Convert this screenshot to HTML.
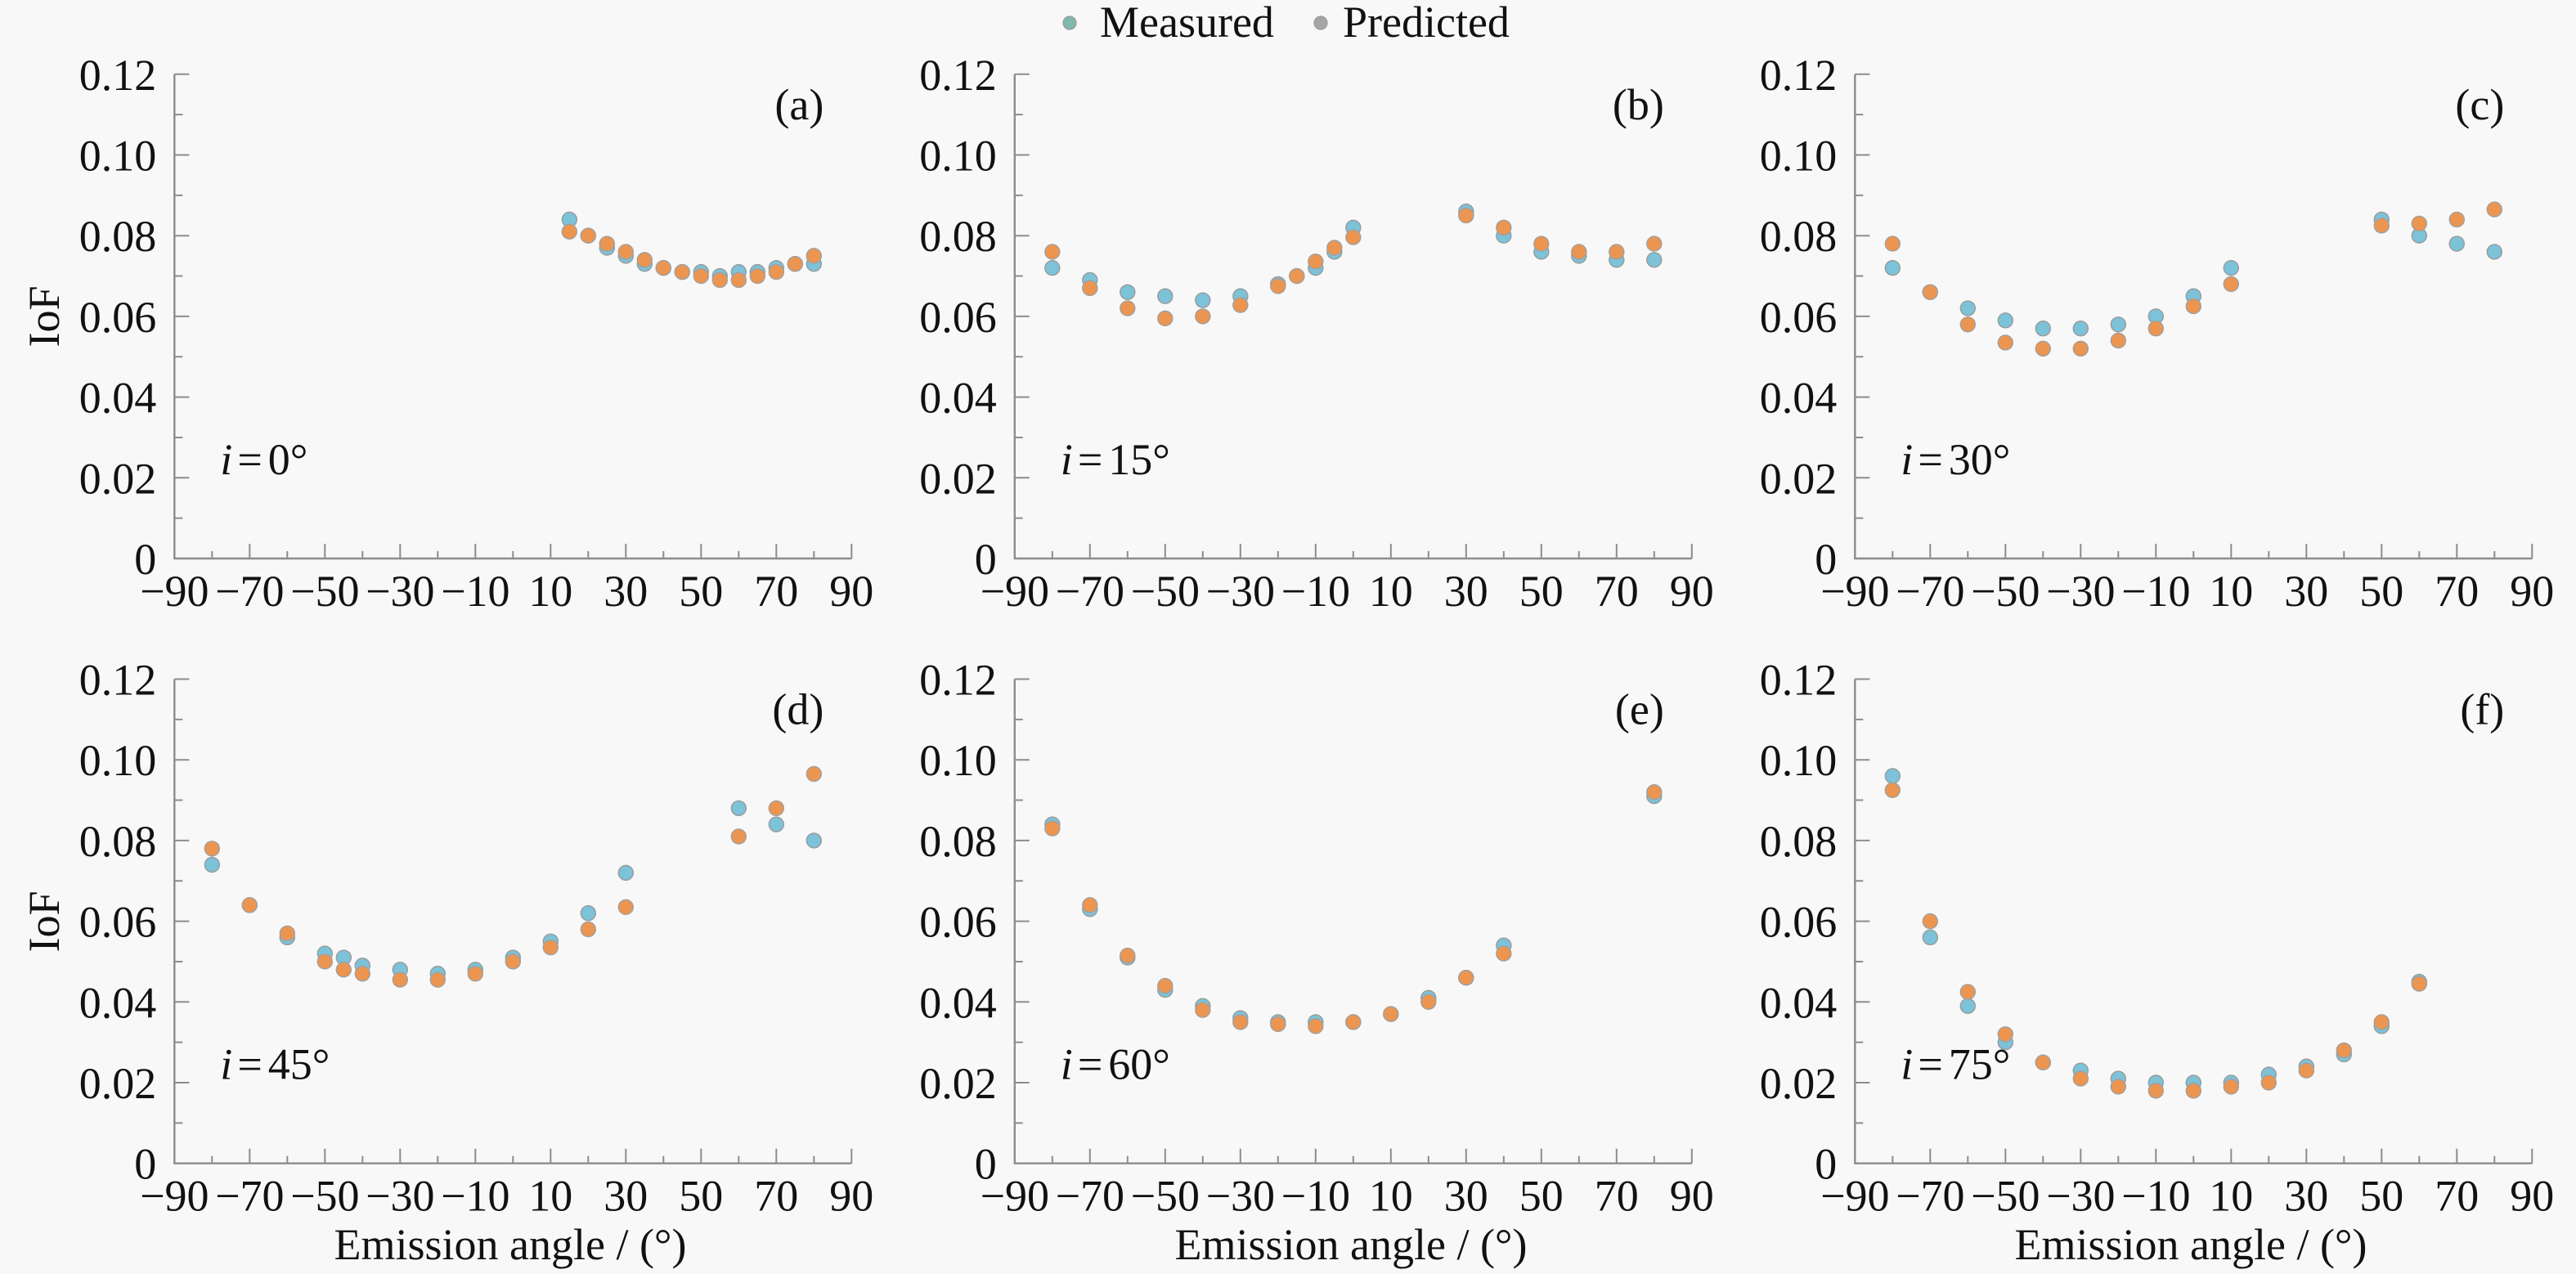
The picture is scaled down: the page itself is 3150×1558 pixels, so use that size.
<!DOCTYPE html>
<html>
<head>
<meta charset="utf-8">
<style>
html,body{margin:0;padding:0;background:#f8f8f8;}
svg{display:block;}
text{font-family:"Liberation Serif","Times New Roman",serif;font-size:54px;fill:#111;}
.ax{stroke:#8c8c8c;stroke-width:2.4;fill:none;}
.tk{stroke:#8c8c8c;stroke-width:2;fill:none;}
.m{fill:#7cc2d8;stroke:#9a9a9a;stroke-width:1.4;}
.p{fill:#ec9550;stroke:#a0a0a0;stroke-width:1.4;}
</style>
</head>
<body>
<svg width="3150" height="1558" viewBox="0 0 3150 1558" xmlns="http://www.w3.org/2000/svg">
<rect width="3150" height="1558" fill="#f8f8f8"/>

<!-- Legend -->
<circle cx="1308" cy="28" r="8" fill="#7fb8ac" stroke="#999" stroke-width="1.2"/>
<text x="1345" y="45">Measured</text>
<circle cx="1615" cy="28" r="8" fill="#a6a6a6" stroke="#999" stroke-width="1.2"/>
<text x="1642" y="45">Predicted</text>

<!-- IoF labels -->
<text transform="translate(72,387) rotate(-90)" text-anchor="middle">IoF</text>
<text transform="translate(72,1127) rotate(-90)" text-anchor="middle">IoF</text>

<!-- Emission labels -->
<text x="624" y="1540" text-anchor="middle">Emission angle / (°)</text>
<text x="1652" y="1540" text-anchor="middle">Emission angle / (°)</text>
<text x="2679" y="1540" text-anchor="middle">Emission angle / (°)</text>

<defs>
<path id="ticks" class="tk" d="M0 -98.7h18M0 -197.4h18M0 -296.1h18M0 -394.8h18M0 -493.5h18M0 -592.2h18M0 -49.35h10M0 -148.05h10M0 -246.75h10M0 -345.45h10M0 -444.15h10M0 -542.85h10M92 0v-18M184 0v-18M276 0v-18M368 0v-18M460 0v-18M552 0v-18M644 0v-18M736 0v-18M828 0v-18M46 0v-9M138 0v-9M230 0v-9M322 0v-9M414 0v-9M506 0v-9M598 0v-9M690 0v-9M782 0v-9"/>
<path id="axes" class="ax" d="M0 -592.2V0H828"/>
</defs>

<!-- ===== Panel a ===== -->
<g transform="translate(213.3,683)">
<use href="#ticks"/><use href="#axes"/>
<text x="-22" y="19" text-anchor="end">0</text>
<text x="-22" y="-79.7" text-anchor="end">0.02</text>
<text x="-22" y="-178.4" text-anchor="end">0.04</text>
<text x="-22" y="-277.1" text-anchor="end">0.06</text>
<text x="-22" y="-375.8" text-anchor="end">0.08</text>
<text x="-22" y="-474.5" text-anchor="end">0.10</text>
<text x="-22" y="-573.2" text-anchor="end">0.12</text>
<text y="58" text-anchor="middle"><tspan x="0">−90</tspan><tspan x="92">−70</tspan><tspan x="184">−50</tspan><tspan x="276">−30</tspan><tspan x="368">−10</tspan><tspan x="460">10</tspan><tspan x="552">30</tspan><tspan x="644">50</tspan><tspan x="736">70</tspan><tspan x="828">90</tspan></text>
<text x="794" y="-537" text-anchor="end">(a)</text>
<text x="56" y="-103"><tspan font-style="italic">i</tspan><tspan dx="6">=</tspan><tspan dx="7">0°</tspan></text>
<g transform="scale(4.6,-4.935)">
<g class="m">
<ellipse cx="105" cy="84" rx="1.957" ry="1.824" vector-effect="non-scaling-stroke"/>
<ellipse cx="110" cy="80" rx="1.957" ry="1.824" vector-effect="non-scaling-stroke"/>
<ellipse cx="115" cy="77" rx="1.957" ry="1.824" vector-effect="non-scaling-stroke"/>
<ellipse cx="120" cy="75" rx="1.957" ry="1.824" vector-effect="non-scaling-stroke"/>
<ellipse cx="125" cy="73" rx="1.957" ry="1.824" vector-effect="non-scaling-stroke"/>
<ellipse cx="130" cy="72" rx="1.957" ry="1.824" vector-effect="non-scaling-stroke"/>
<ellipse cx="135" cy="71" rx="1.957" ry="1.824" vector-effect="non-scaling-stroke"/>
<ellipse cx="140" cy="71" rx="1.957" ry="1.824" vector-effect="non-scaling-stroke"/>
<ellipse cx="145" cy="70" rx="1.957" ry="1.824" vector-effect="non-scaling-stroke"/>
<ellipse cx="150" cy="71" rx="1.957" ry="1.824" vector-effect="non-scaling-stroke"/>
<ellipse cx="155" cy="71" rx="1.957" ry="1.824" vector-effect="non-scaling-stroke"/>
<ellipse cx="160" cy="72" rx="1.957" ry="1.824" vector-effect="non-scaling-stroke"/>
<ellipse cx="165" cy="73" rx="1.957" ry="1.824" vector-effect="non-scaling-stroke"/>
<ellipse cx="170" cy="73" rx="1.957" ry="1.824" vector-effect="non-scaling-stroke"/>
</g>
<g class="p">
<ellipse cx="105" cy="81" rx="1.957" ry="1.824" vector-effect="non-scaling-stroke"/>
<ellipse cx="110" cy="80" rx="1.957" ry="1.824" vector-effect="non-scaling-stroke"/>
<ellipse cx="115" cy="78" rx="1.957" ry="1.824" vector-effect="non-scaling-stroke"/>
<ellipse cx="120" cy="76" rx="1.957" ry="1.824" vector-effect="non-scaling-stroke"/>
<ellipse cx="125" cy="74" rx="1.957" ry="1.824" vector-effect="non-scaling-stroke"/>
<ellipse cx="130" cy="72" rx="1.957" ry="1.824" vector-effect="non-scaling-stroke"/>
<ellipse cx="135" cy="71" rx="1.957" ry="1.824" vector-effect="non-scaling-stroke"/>
<ellipse cx="140" cy="70" rx="1.957" ry="1.824" vector-effect="non-scaling-stroke"/>
<ellipse cx="145" cy="69" rx="1.957" ry="1.824" vector-effect="non-scaling-stroke"/>
<ellipse cx="150" cy="69" rx="1.957" ry="1.824" vector-effect="non-scaling-stroke"/>
<ellipse cx="155" cy="70" rx="1.957" ry="1.824" vector-effect="non-scaling-stroke"/>
<ellipse cx="160" cy="71" rx="1.957" ry="1.824" vector-effect="non-scaling-stroke"/>
<ellipse cx="165" cy="73" rx="1.957" ry="1.824" vector-effect="non-scaling-stroke"/>
<ellipse cx="170" cy="75" rx="1.957" ry="1.824" vector-effect="non-scaling-stroke"/>
</g>
</g>
</g>

<!-- ===== Panel b ===== -->
<g transform="translate(1240.8,683)">
<use href="#ticks"/><use href="#axes"/>
<text x="-22" y="19" text-anchor="end">0</text>
<text x="-22" y="-79.7" text-anchor="end">0.02</text>
<text x="-22" y="-178.4" text-anchor="end">0.04</text>
<text x="-22" y="-277.1" text-anchor="end">0.06</text>
<text x="-22" y="-375.8" text-anchor="end">0.08</text>
<text x="-22" y="-474.5" text-anchor="end">0.10</text>
<text x="-22" y="-573.2" text-anchor="end">0.12</text>
<text y="58" text-anchor="middle"><tspan x="0">−90</tspan><tspan x="92">−70</tspan><tspan x="184">−50</tspan><tspan x="276">−30</tspan><tspan x="368">−10</tspan><tspan x="460">10</tspan><tspan x="552">30</tspan><tspan x="644">50</tspan><tspan x="736">70</tspan><tspan x="828">90</tspan></text>
<text x="794" y="-537" text-anchor="end">(b)</text>
<text x="56" y="-103"><tspan font-style="italic">i</tspan><tspan dx="6">=</tspan><tspan dx="7">15°</tspan></text>
<g transform="scale(4.6,-4.935)">
<g class="m">
<ellipse cx="10" cy="72" rx="1.957" ry="1.824" vector-effect="non-scaling-stroke"/>
<ellipse cx="20" cy="69" rx="1.957" ry="1.824" vector-effect="non-scaling-stroke"/>
<ellipse cx="30" cy="66" rx="1.957" ry="1.824" vector-effect="non-scaling-stroke"/>
<ellipse cx="40" cy="65" rx="1.957" ry="1.824" vector-effect="non-scaling-stroke"/>
<ellipse cx="50" cy="64" rx="1.957" ry="1.824" vector-effect="non-scaling-stroke"/>
<ellipse cx="60" cy="65" rx="1.957" ry="1.824" vector-effect="non-scaling-stroke"/>
<ellipse cx="70" cy="68" rx="1.957" ry="1.824" vector-effect="non-scaling-stroke"/>
<ellipse cx="75" cy="70" rx="1.957" ry="1.824" vector-effect="non-scaling-stroke"/>
<ellipse cx="80" cy="72" rx="1.957" ry="1.824" vector-effect="non-scaling-stroke"/>
<ellipse cx="85" cy="76" rx="1.957" ry="1.824" vector-effect="non-scaling-stroke"/>
<ellipse cx="90" cy="82" rx="1.957" ry="1.824" vector-effect="non-scaling-stroke"/>
<ellipse cx="120" cy="86" rx="1.957" ry="1.824" vector-effect="non-scaling-stroke"/>
<ellipse cx="130" cy="80" rx="1.957" ry="1.824" vector-effect="non-scaling-stroke"/>
<ellipse cx="140" cy="76" rx="1.957" ry="1.824" vector-effect="non-scaling-stroke"/>
<ellipse cx="150" cy="75" rx="1.957" ry="1.824" vector-effect="non-scaling-stroke"/>
<ellipse cx="160" cy="74" rx="1.957" ry="1.824" vector-effect="non-scaling-stroke"/>
<ellipse cx="170" cy="74" rx="1.957" ry="1.824" vector-effect="non-scaling-stroke"/>
</g>
<g class="p">
<ellipse cx="10" cy="76" rx="1.957" ry="1.824" vector-effect="non-scaling-stroke"/>
<ellipse cx="20" cy="67" rx="1.957" ry="1.824" vector-effect="non-scaling-stroke"/>
<ellipse cx="30" cy="62" rx="1.957" ry="1.824" vector-effect="non-scaling-stroke"/>
<ellipse cx="40" cy="59.5" rx="1.957" ry="1.824" vector-effect="non-scaling-stroke"/>
<ellipse cx="50" cy="60" rx="1.957" ry="1.824" vector-effect="non-scaling-stroke"/>
<ellipse cx="60" cy="62.8" rx="1.957" ry="1.824" vector-effect="non-scaling-stroke"/>
<ellipse cx="70" cy="67.5" rx="1.957" ry="1.824" vector-effect="non-scaling-stroke"/>
<ellipse cx="75" cy="70" rx="1.957" ry="1.824" vector-effect="non-scaling-stroke"/>
<ellipse cx="80" cy="73.6" rx="1.957" ry="1.824" vector-effect="non-scaling-stroke"/>
<ellipse cx="85" cy="77" rx="1.957" ry="1.824" vector-effect="non-scaling-stroke"/>
<ellipse cx="90" cy="79.6" rx="1.957" ry="1.824" vector-effect="non-scaling-stroke"/>
<ellipse cx="120" cy="85" rx="1.957" ry="1.824" vector-effect="non-scaling-stroke"/>
<ellipse cx="130" cy="82" rx="1.957" ry="1.824" vector-effect="non-scaling-stroke"/>
<ellipse cx="140" cy="78" rx="1.957" ry="1.824" vector-effect="non-scaling-stroke"/>
<ellipse cx="150" cy="76" rx="1.957" ry="1.824" vector-effect="non-scaling-stroke"/>
<ellipse cx="160" cy="76" rx="1.957" ry="1.824" vector-effect="non-scaling-stroke"/>
<ellipse cx="170" cy="78" rx="1.957" ry="1.824" vector-effect="non-scaling-stroke"/>
</g>
</g>
</g>

<!-- ===== Panel c ===== -->
<g transform="translate(2268.3,683)">
<use href="#ticks"/><use href="#axes"/>
<text x="-22" y="19" text-anchor="end">0</text>
<text x="-22" y="-79.7" text-anchor="end">0.02</text>
<text x="-22" y="-178.4" text-anchor="end">0.04</text>
<text x="-22" y="-277.1" text-anchor="end">0.06</text>
<text x="-22" y="-375.8" text-anchor="end">0.08</text>
<text x="-22" y="-474.5" text-anchor="end">0.10</text>
<text x="-22" y="-573.2" text-anchor="end">0.12</text>
<text y="58" text-anchor="middle"><tspan x="0">−90</tspan><tspan x="92">−70</tspan><tspan x="184">−50</tspan><tspan x="276">−30</tspan><tspan x="368">−10</tspan><tspan x="460">10</tspan><tspan x="552">30</tspan><tspan x="644">50</tspan><tspan x="736">70</tspan><tspan x="828">90</tspan></text>
<text x="794" y="-537" text-anchor="end">(c)</text>
<text x="56" y="-103"><tspan font-style="italic">i</tspan><tspan dx="6">=</tspan><tspan dx="7">30°</tspan></text>
<g transform="scale(4.6,-4.935)">
<g class="m">
<ellipse cx="10" cy="72" rx="1.957" ry="1.824" vector-effect="non-scaling-stroke"/>
<ellipse cx="20" cy="66" rx="1.957" ry="1.824" vector-effect="non-scaling-stroke"/>
<ellipse cx="30" cy="62" rx="1.957" ry="1.824" vector-effect="non-scaling-stroke"/>
<ellipse cx="40" cy="59" rx="1.957" ry="1.824" vector-effect="non-scaling-stroke"/>
<ellipse cx="50" cy="57" rx="1.957" ry="1.824" vector-effect="non-scaling-stroke"/>
<ellipse cx="60" cy="57" rx="1.957" ry="1.824" vector-effect="non-scaling-stroke"/>
<ellipse cx="70" cy="58" rx="1.957" ry="1.824" vector-effect="non-scaling-stroke"/>
<ellipse cx="80" cy="60" rx="1.957" ry="1.824" vector-effect="non-scaling-stroke"/>
<ellipse cx="90" cy="65" rx="1.957" ry="1.824" vector-effect="non-scaling-stroke"/>
<ellipse cx="100" cy="72" rx="1.957" ry="1.824" vector-effect="non-scaling-stroke"/>
<ellipse cx="140" cy="84" rx="1.957" ry="1.824" vector-effect="non-scaling-stroke"/>
<ellipse cx="150" cy="80" rx="1.957" ry="1.824" vector-effect="non-scaling-stroke"/>
<ellipse cx="160" cy="78" rx="1.957" ry="1.824" vector-effect="non-scaling-stroke"/>
<ellipse cx="170" cy="76" rx="1.957" ry="1.824" vector-effect="non-scaling-stroke"/>
</g>
<g class="p">
<ellipse cx="10" cy="78" rx="1.957" ry="1.824" vector-effect="non-scaling-stroke"/>
<ellipse cx="20" cy="66" rx="1.957" ry="1.824" vector-effect="non-scaling-stroke"/>
<ellipse cx="30" cy="58" rx="1.957" ry="1.824" vector-effect="non-scaling-stroke"/>
<ellipse cx="40" cy="53.5" rx="1.957" ry="1.824" vector-effect="non-scaling-stroke"/>
<ellipse cx="50" cy="52" rx="1.957" ry="1.824" vector-effect="non-scaling-stroke"/>
<ellipse cx="60" cy="52" rx="1.957" ry="1.824" vector-effect="non-scaling-stroke"/>
<ellipse cx="70" cy="54" rx="1.957" ry="1.824" vector-effect="non-scaling-stroke"/>
<ellipse cx="80" cy="57" rx="1.957" ry="1.824" vector-effect="non-scaling-stroke"/>
<ellipse cx="90" cy="62.5" rx="1.957" ry="1.824" vector-effect="non-scaling-stroke"/>
<ellipse cx="100" cy="68" rx="1.957" ry="1.824" vector-effect="non-scaling-stroke"/>
<ellipse cx="140" cy="82.5" rx="1.957" ry="1.824" vector-effect="non-scaling-stroke"/>
<ellipse cx="150" cy="83" rx="1.957" ry="1.824" vector-effect="non-scaling-stroke"/>
<ellipse cx="160" cy="84" rx="1.957" ry="1.824" vector-effect="non-scaling-stroke"/>
<ellipse cx="170" cy="86.5" rx="1.957" ry="1.824" vector-effect="non-scaling-stroke"/>
</g>
</g>
</g>

<!-- ===== Panel d ===== -->
<g transform="translate(213.3,1422.7)">
<use href="#ticks"/><use href="#axes"/>
<text x="-22" y="19" text-anchor="end">0</text>
<text x="-22" y="-79.7" text-anchor="end">0.02</text>
<text x="-22" y="-178.4" text-anchor="end">0.04</text>
<text x="-22" y="-277.1" text-anchor="end">0.06</text>
<text x="-22" y="-375.8" text-anchor="end">0.08</text>
<text x="-22" y="-474.5" text-anchor="end">0.10</text>
<text x="-22" y="-573.2" text-anchor="end">0.12</text>
<text y="58" text-anchor="middle"><tspan x="0">−90</tspan><tspan x="92">−70</tspan><tspan x="184">−50</tspan><tspan x="276">−30</tspan><tspan x="368">−10</tspan><tspan x="460">10</tspan><tspan x="552">30</tspan><tspan x="644">50</tspan><tspan x="736">70</tspan><tspan x="828">90</tspan></text>
<text x="794" y="-537" text-anchor="end">(d)</text>
<text x="56" y="-103"><tspan font-style="italic">i</tspan><tspan dx="6">=</tspan><tspan dx="7">45°</tspan></text>
<g transform="scale(4.6,-4.935)">
<g class="m">
<ellipse cx="10" cy="74" rx="1.957" ry="1.824" vector-effect="non-scaling-stroke"/>
<ellipse cx="20" cy="64" rx="1.957" ry="1.824" vector-effect="non-scaling-stroke"/>
<ellipse cx="30" cy="56" rx="1.957" ry="1.824" vector-effect="non-scaling-stroke"/>
<ellipse cx="40" cy="52" rx="1.957" ry="1.824" vector-effect="non-scaling-stroke"/>
<ellipse cx="45" cy="51" rx="1.957" ry="1.824" vector-effect="non-scaling-stroke"/>
<ellipse cx="50" cy="49" rx="1.957" ry="1.824" vector-effect="non-scaling-stroke"/>
<ellipse cx="60" cy="48" rx="1.957" ry="1.824" vector-effect="non-scaling-stroke"/>
<ellipse cx="70" cy="47" rx="1.957" ry="1.824" vector-effect="non-scaling-stroke"/>
<ellipse cx="80" cy="48" rx="1.957" ry="1.824" vector-effect="non-scaling-stroke"/>
<ellipse cx="90" cy="51" rx="1.957" ry="1.824" vector-effect="non-scaling-stroke"/>
<ellipse cx="100" cy="55" rx="1.957" ry="1.824" vector-effect="non-scaling-stroke"/>
<ellipse cx="110" cy="62" rx="1.957" ry="1.824" vector-effect="non-scaling-stroke"/>
<ellipse cx="120" cy="72" rx="1.957" ry="1.824" vector-effect="non-scaling-stroke"/>
<ellipse cx="150" cy="88" rx="1.957" ry="1.824" vector-effect="non-scaling-stroke"/>
<ellipse cx="160" cy="84" rx="1.957" ry="1.824" vector-effect="non-scaling-stroke"/>
<ellipse cx="170" cy="80" rx="1.957" ry="1.824" vector-effect="non-scaling-stroke"/>
</g>
<g class="p">
<ellipse cx="10" cy="78" rx="1.957" ry="1.824" vector-effect="non-scaling-stroke"/>
<ellipse cx="20" cy="64" rx="1.957" ry="1.824" vector-effect="non-scaling-stroke"/>
<ellipse cx="30" cy="57" rx="1.957" ry="1.824" vector-effect="non-scaling-stroke"/>
<ellipse cx="40" cy="50" rx="1.957" ry="1.824" vector-effect="non-scaling-stroke"/>
<ellipse cx="45" cy="48" rx="1.957" ry="1.824" vector-effect="non-scaling-stroke"/>
<ellipse cx="50" cy="47" rx="1.957" ry="1.824" vector-effect="non-scaling-stroke"/>
<ellipse cx="60" cy="45.5" rx="1.957" ry="1.824" vector-effect="non-scaling-stroke"/>
<ellipse cx="70" cy="45.5" rx="1.957" ry="1.824" vector-effect="non-scaling-stroke"/>
<ellipse cx="80" cy="47" rx="1.957" ry="1.824" vector-effect="non-scaling-stroke"/>
<ellipse cx="90" cy="50" rx="1.957" ry="1.824" vector-effect="non-scaling-stroke"/>
<ellipse cx="100" cy="53.5" rx="1.957" ry="1.824" vector-effect="non-scaling-stroke"/>
<ellipse cx="110" cy="58" rx="1.957" ry="1.824" vector-effect="non-scaling-stroke"/>
<ellipse cx="120" cy="63.5" rx="1.957" ry="1.824" vector-effect="non-scaling-stroke"/>
<ellipse cx="150" cy="81" rx="1.957" ry="1.824" vector-effect="non-scaling-stroke"/>
<ellipse cx="160" cy="88" rx="1.957" ry="1.824" vector-effect="non-scaling-stroke"/>
<ellipse cx="170" cy="96.5" rx="1.957" ry="1.824" vector-effect="non-scaling-stroke"/>
</g>
</g>
</g>

<!-- ===== Panel e ===== -->
<g transform="translate(1240.8,1422.7)">
<use href="#ticks"/><use href="#axes"/>
<text x="-22" y="19" text-anchor="end">0</text>
<text x="-22" y="-79.7" text-anchor="end">0.02</text>
<text x="-22" y="-178.4" text-anchor="end">0.04</text>
<text x="-22" y="-277.1" text-anchor="end">0.06</text>
<text x="-22" y="-375.8" text-anchor="end">0.08</text>
<text x="-22" y="-474.5" text-anchor="end">0.10</text>
<text x="-22" y="-573.2" text-anchor="end">0.12</text>
<text y="58" text-anchor="middle"><tspan x="0">−90</tspan><tspan x="92">−70</tspan><tspan x="184">−50</tspan><tspan x="276">−30</tspan><tspan x="368">−10</tspan><tspan x="460">10</tspan><tspan x="552">30</tspan><tspan x="644">50</tspan><tspan x="736">70</tspan><tspan x="828">90</tspan></text>
<text x="794" y="-537" text-anchor="end">(e)</text>
<text x="56" y="-103"><tspan font-style="italic">i</tspan><tspan dx="6">=</tspan><tspan dx="7">60°</tspan></text>
<g transform="scale(4.6,-4.935)">
<g class="m">
<ellipse cx="10" cy="84" rx="1.957" ry="1.824" vector-effect="non-scaling-stroke"/>
<ellipse cx="20" cy="63" rx="1.957" ry="1.824" vector-effect="non-scaling-stroke"/>
<ellipse cx="30" cy="51" rx="1.957" ry="1.824" vector-effect="non-scaling-stroke"/>
<ellipse cx="40" cy="43" rx="1.957" ry="1.824" vector-effect="non-scaling-stroke"/>
<ellipse cx="50" cy="39" rx="1.957" ry="1.824" vector-effect="non-scaling-stroke"/>
<ellipse cx="60" cy="36" rx="1.957" ry="1.824" vector-effect="non-scaling-stroke"/>
<ellipse cx="70" cy="35" rx="1.957" ry="1.824" vector-effect="non-scaling-stroke"/>
<ellipse cx="80" cy="35" rx="1.957" ry="1.824" vector-effect="non-scaling-stroke"/>
<ellipse cx="90" cy="35" rx="1.957" ry="1.824" vector-effect="non-scaling-stroke"/>
<ellipse cx="100" cy="37" rx="1.957" ry="1.824" vector-effect="non-scaling-stroke"/>
<ellipse cx="110" cy="41" rx="1.957" ry="1.824" vector-effect="non-scaling-stroke"/>
<ellipse cx="120" cy="46" rx="1.957" ry="1.824" vector-effect="non-scaling-stroke"/>
<ellipse cx="130" cy="54" rx="1.957" ry="1.824" vector-effect="non-scaling-stroke"/>
<ellipse cx="170" cy="91" rx="1.957" ry="1.824" vector-effect="non-scaling-stroke"/>
</g>
<g class="p">
<ellipse cx="10" cy="83" rx="1.957" ry="1.824" vector-effect="non-scaling-stroke"/>
<ellipse cx="20" cy="64" rx="1.957" ry="1.824" vector-effect="non-scaling-stroke"/>
<ellipse cx="30" cy="51.5" rx="1.957" ry="1.824" vector-effect="non-scaling-stroke"/>
<ellipse cx="40" cy="44" rx="1.957" ry="1.824" vector-effect="non-scaling-stroke"/>
<ellipse cx="50" cy="38" rx="1.957" ry="1.824" vector-effect="non-scaling-stroke"/>
<ellipse cx="60" cy="35" rx="1.957" ry="1.824" vector-effect="non-scaling-stroke"/>
<ellipse cx="70" cy="34.5" rx="1.957" ry="1.824" vector-effect="non-scaling-stroke"/>
<ellipse cx="80" cy="34" rx="1.957" ry="1.824" vector-effect="non-scaling-stroke"/>
<ellipse cx="90" cy="35" rx="1.957" ry="1.824" vector-effect="non-scaling-stroke"/>
<ellipse cx="100" cy="37" rx="1.957" ry="1.824" vector-effect="non-scaling-stroke"/>
<ellipse cx="110" cy="40" rx="1.957" ry="1.824" vector-effect="non-scaling-stroke"/>
<ellipse cx="120" cy="46" rx="1.957" ry="1.824" vector-effect="non-scaling-stroke"/>
<ellipse cx="130" cy="52" rx="1.957" ry="1.824" vector-effect="non-scaling-stroke"/>
<ellipse cx="170" cy="92" rx="1.957" ry="1.824" vector-effect="non-scaling-stroke"/>
</g>
</g>
</g>

<!-- ===== Panel f ===== -->
<g transform="translate(2268.3,1422.7)">
<use href="#ticks"/><use href="#axes"/>
<text x="-22" y="19" text-anchor="end">0</text>
<text x="-22" y="-79.7" text-anchor="end">0.02</text>
<text x="-22" y="-178.4" text-anchor="end">0.04</text>
<text x="-22" y="-277.1" text-anchor="end">0.06</text>
<text x="-22" y="-375.8" text-anchor="end">0.08</text>
<text x="-22" y="-474.5" text-anchor="end">0.10</text>
<text x="-22" y="-573.2" text-anchor="end">0.12</text>
<text y="58" text-anchor="middle"><tspan x="0">−90</tspan><tspan x="92">−70</tspan><tspan x="184">−50</tspan><tspan x="276">−30</tspan><tspan x="368">−10</tspan><tspan x="460">10</tspan><tspan x="552">30</tspan><tspan x="644">50</tspan><tspan x="736">70</tspan><tspan x="828">90</tspan></text>
<text x="794" y="-537" text-anchor="end">(f)</text>
<text x="56" y="-103"><tspan font-style="italic">i</tspan><tspan dx="6">=</tspan><tspan dx="7">75°</tspan></text>
<g transform="scale(4.6,-4.935)">
<g class="m">
<ellipse cx="10" cy="96" rx="1.957" ry="1.824" vector-effect="non-scaling-stroke"/>
<ellipse cx="20" cy="56" rx="1.957" ry="1.824" vector-effect="non-scaling-stroke"/>
<ellipse cx="30" cy="39" rx="1.957" ry="1.824" vector-effect="non-scaling-stroke"/>
<ellipse cx="40" cy="30" rx="1.957" ry="1.824" vector-effect="non-scaling-stroke"/>
<ellipse cx="50" cy="25" rx="1.957" ry="1.824" vector-effect="non-scaling-stroke"/>
<ellipse cx="60" cy="23" rx="1.957" ry="1.824" vector-effect="non-scaling-stroke"/>
<ellipse cx="70" cy="21" rx="1.957" ry="1.824" vector-effect="non-scaling-stroke"/>
<ellipse cx="80" cy="20" rx="1.957" ry="1.824" vector-effect="non-scaling-stroke"/>
<ellipse cx="90" cy="20" rx="1.957" ry="1.824" vector-effect="non-scaling-stroke"/>
<ellipse cx="100" cy="20" rx="1.957" ry="1.824" vector-effect="non-scaling-stroke"/>
<ellipse cx="110" cy="22" rx="1.957" ry="1.824" vector-effect="non-scaling-stroke"/>
<ellipse cx="120" cy="24" rx="1.957" ry="1.824" vector-effect="non-scaling-stroke"/>
<ellipse cx="130" cy="27" rx="1.957" ry="1.824" vector-effect="non-scaling-stroke"/>
<ellipse cx="140" cy="34" rx="1.957" ry="1.824" vector-effect="non-scaling-stroke"/>
<ellipse cx="150" cy="45" rx="1.957" ry="1.824" vector-effect="non-scaling-stroke"/>
</g>
<g class="p">
<ellipse cx="10" cy="92.5" rx="1.957" ry="1.824" vector-effect="non-scaling-stroke"/>
<ellipse cx="20" cy="60" rx="1.957" ry="1.824" vector-effect="non-scaling-stroke"/>
<ellipse cx="30" cy="42.5" rx="1.957" ry="1.824" vector-effect="non-scaling-stroke"/>
<ellipse cx="40" cy="32" rx="1.957" ry="1.824" vector-effect="non-scaling-stroke"/>
<ellipse cx="50" cy="25" rx="1.957" ry="1.824" vector-effect="non-scaling-stroke"/>
<ellipse cx="60" cy="21" rx="1.957" ry="1.824" vector-effect="non-scaling-stroke"/>
<ellipse cx="70" cy="19" rx="1.957" ry="1.824" vector-effect="non-scaling-stroke"/>
<ellipse cx="80" cy="18" rx="1.957" ry="1.824" vector-effect="non-scaling-stroke"/>
<ellipse cx="90" cy="18" rx="1.957" ry="1.824" vector-effect="non-scaling-stroke"/>
<ellipse cx="100" cy="19" rx="1.957" ry="1.824" vector-effect="non-scaling-stroke"/>
<ellipse cx="110" cy="20" rx="1.957" ry="1.824" vector-effect="non-scaling-stroke"/>
<ellipse cx="120" cy="23" rx="1.957" ry="1.824" vector-effect="non-scaling-stroke"/>
<ellipse cx="130" cy="28" rx="1.957" ry="1.824" vector-effect="non-scaling-stroke"/>
<ellipse cx="140" cy="35" rx="1.957" ry="1.824" vector-effect="non-scaling-stroke"/>
<ellipse cx="150" cy="44.5" rx="1.957" ry="1.824" vector-effect="non-scaling-stroke"/>
</g>
</g>
</g>

</svg>
</body>
</html>
